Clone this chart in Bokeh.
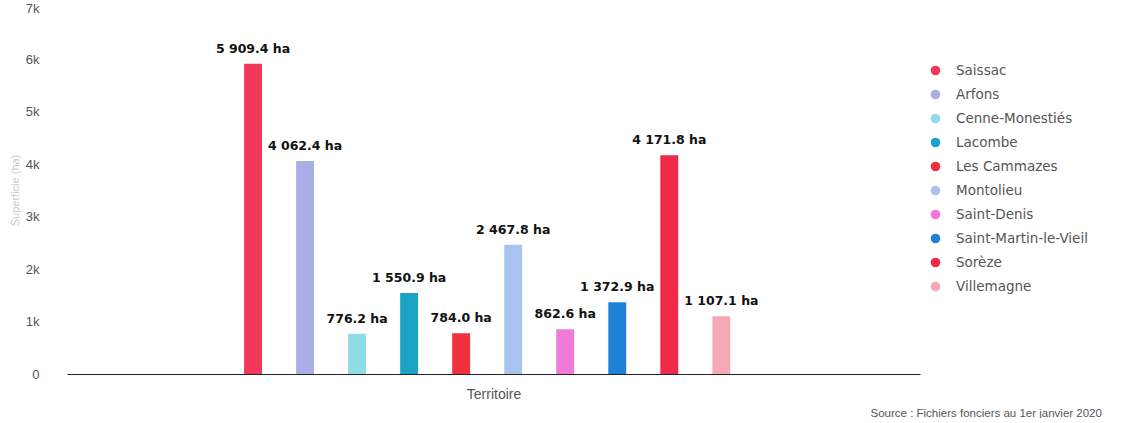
from bokeh.plotting import figure
from bokeh.models import Legend, LegendItem, Title, FixedTicker, ColumnDataSource
from bokeh.transform import dodge
from bokeh.core.properties import value
from bokeh.embed import file_html
from bokeh.resources import INLINE

communes = ["Saissac", "Arfons", "Cenne-Monestiés", "Lacombe", "Les Cammazes",
            "Montolieu", "Saint-Denis", "Saint-Martin-le-Vieil", "Sorèze", "Villemagne"]
surfaces = [5909.4, 4062.4, 776.2, 1550.9, 784.0, 2467.8, 862.6, 1372.9, 4171.8, 1107.1]
colors = ["#f2385a", "#a9aee6", "#8fdbe8", "#1aa3c4", "#f0303c",
          "#a8c4ee", "#f07ad8", "#1f80d8", "#ee2a48", "#f6a8b4"]
category = ["Territoire"]
y_ticks = [0, 1000, 2000, 3000, 4000, 5000, 6000, 7000]
y_tick_labels = ["0", "1k", "2k", "3k", "4k", "5k", "6k", "7k"]
source_text = "Source : Fichiers fonciers au 1er janvier 2020"

p = figure(x_range=category, y_range=(0, 7000), frame_width=853, frame_height=368,
           output_backend="svg", toolbar_location=None,
           min_border_left=67, min_border_top=6, min_border_bottom=0, min_border_right=0)
p.x_range.range_padding = 0
p.outline_line_color = None
p.xgrid.grid_line_color = None
p.ygrid.grid_line_color = None

n = len(communes)
step = 0.061
items = []
for i, (name, val, col) in enumerate(zip(communes, surfaces, colors)):
    off = (i - (n - 1) / 2) * step - 0.008
    src = ColumnDataSource(dict(x=category, y=[val],
                                lab=[f"{val:,.1f}".replace(",", " ") + " ha"]))
    p.vbar(x=dodge("x", off, range=p.x_range), top="y", width=0.021, source=src,
           fill_color=col, line_color=None)
    p.text(x=dodge("x", off, range=p.x_range), y="y", text="lab", source=src,
           text_font=value("DejaVu Sans"), text_font_style="bold",
           text_font_size="12.5px", text_align="center", text_baseline="bottom",
           text_color="#111111", y_offset=-8)
    leg = p.scatter(x=dodge("x", off, range=p.x_range), y="y", source=src,
                    marker="circle", size=0, fill_color=col, line_color=None)
    items.append(LegendItem(label=name, renderers=[leg]))

legend = Legend(items=items, location=(0, 76), border_line_color=None,
                background_fill_alpha=0,
                label_text_font="DejaVu Sans", label_text_font_size="13.5px",
                label_text_color="#555555", glyph_width=30, glyph_height=24,
                spacing=0, padding=8, margin=0, label_standoff=6, label_height=24)
p.add_layout(legend, "right")

p.yaxis.ticker = FixedTicker(ticks=y_ticks)
p.yaxis.major_label_overrides = {t: l for t, l in zip(y_ticks, y_tick_labels)}
p.yaxis.axis_line_color = None
p.yaxis.major_tick_line_color = None
p.yaxis.minor_tick_line_color = None
p.yaxis.major_label_text_color = "#555555"
p.yaxis.major_label_text_font_size = "13px"
p.yaxis.major_label_standoff = 22
p.yaxis.axis_label = "Superficie (ha)"
p.yaxis.axis_label_text_color = "#cccccc"
p.yaxis.axis_label_text_font_style = "normal"
p.yaxis.axis_label_text_font_size = "11px"
p.yaxis.axis_label_standoff = 2

p.xaxis.axis_line_color = "#222222"
p.xaxis.axis_line_width = 1.2
p.xaxis.major_tick_line_color = None
p.xaxis.minor_tick_line_color = None
p.xaxis.major_label_text_color = "#555555"
p.xaxis.major_label_text_font_size = "14px"
p.xaxis.major_label_standoff = 5

p.add_layout(Title(text=source_text, align="left", offset=803, standoff=0,
                   text_font_size="11.5px", text_font_style="normal",
                   text_color="#555555"), "below")

open("out.html", "w").write(file_html(p, INLINE))
